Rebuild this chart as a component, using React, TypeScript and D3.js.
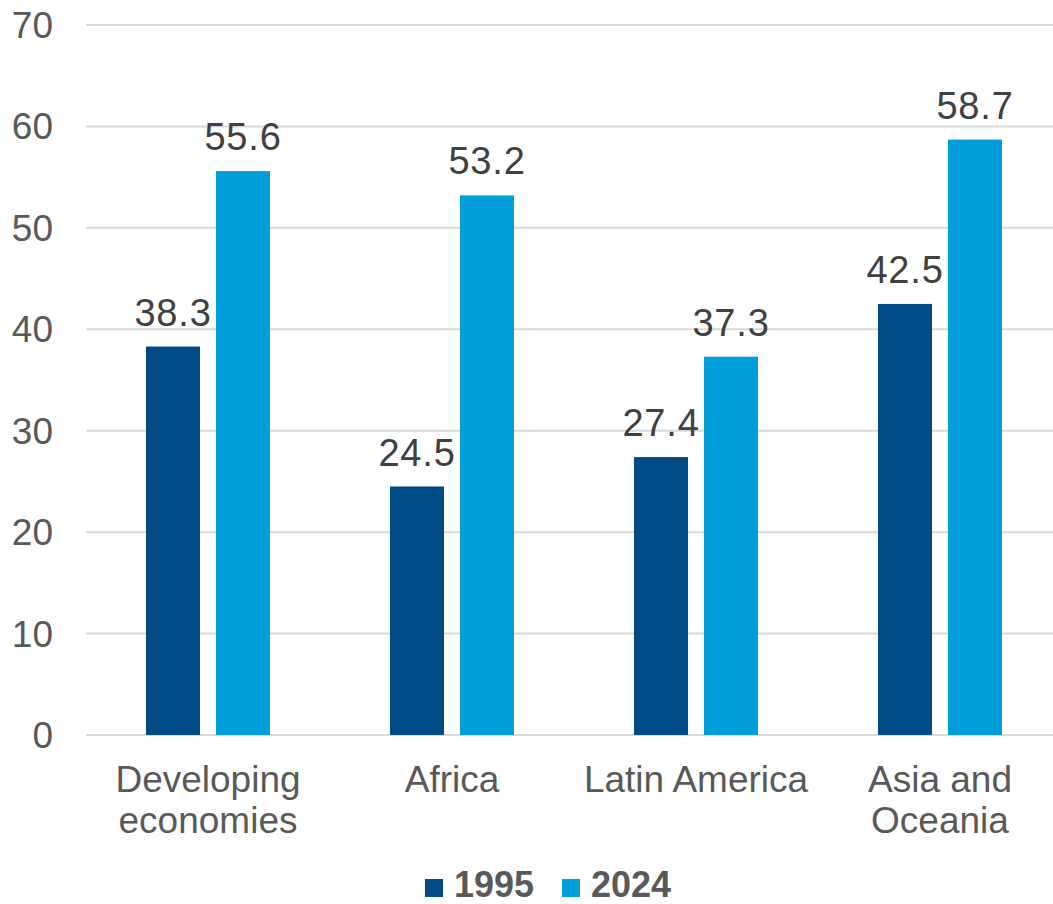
import React from "react";
import * as d3 from "d3";

const categories: string[][] = [
  ["Developing", "economies"],
  ["Africa"],
  ["Latin America"],
  ["Asia and", "Oceania"],
];
const series = ["1995", "2024"];
const values1995 = [38.3, 24.5, 27.4, 42.5];
const values2024 = [55.6, 53.2, 37.3, 58.7];
const yTicks = [0, 10, 20, 30, 40, 50, 60, 70];
const colors = ["#004A86", "#009EDB"];

const W = 1053;
const H = 904;
const FONT = "'Liberation Sans', Arial, Helvetica, sans-serif";
const TEXT = "#595959";

export default function App() {
  const keys = categories.map((c) => c.join(" "));
  const x0 = d3
    .scaleBand<string>()
    .domain(keys)
    .range([86, 1062])
    .paddingInner(120 / 244)
    .paddingOuter(60 / 244);
  const x1 = d3
    .scaleBand<string>()
    .domain(series)
    .range([0, x0.bandwidth()])
    .paddingInner(2 - x0.bandwidth() / 70)
    .paddingOuter(0);
  const y = d3.scaleLinear().domain([0, 70]).range([735, 25]);
  const data = [values1995, values2024];

  return (
    <div style={{ position: "absolute", left: 0, top: 0 }}>
      <svg width={W} height={H} style={{ display: "block", fontFamily: FONT }}>
        <rect width={W} height={H} fill="#ffffff" />
        {yTicks.map((t) => (
          <g key={t}>
            <line x1={86} x2={W} y1={y(t)} y2={y(t)} stroke="#d9d9d9" strokeWidth={2} />
            <text x={53} y={y(t)} dy="0.35em" textAnchor="end" fontSize={37} fill={TEXT}>
              {t}
            </text>
          </g>
        ))}
        {keys.map((k, i) => (
          <g key={k} transform={`translate(${x0(k)},0)`}>
            {series.map((s, j) => {
              const v = data[j][i];
              const bx = x1(s)!;
              return (
                <g key={s}>
                  <rect x={bx} y={y(v)} width={x1.bandwidth()} height={y(0) - y(v)} fill={colors[j]} />
                  <text
                    x={bx + x1.bandwidth() / 2}
                    y={y(v) - 21}
                    textAnchor="middle"
                    fontSize={38}
                    letterSpacing={0.8}
                    fill="#404040"
                  >
                    {v.toFixed(1)}
                  </text>
                </g>
              );
            })}
            {categories[i].map((line, li) => (
              <text
                key={li}
                x={x0.bandwidth() / 2}
                y={792 + li * 41}
                textAnchor="middle"
                fontSize={37}
                fill={TEXT}
              >
                {line}
              </text>
            ))}
          </g>
        ))}
        {series.map((s, j) => {
          const sx = j === 0 ? 425 : 562;
          return (
            <g key={s}>
              <rect x={sx} y={879} width={18} height={18} fill={colors[j]} />
              <text x={sx + 29} y={897} fontSize={36} fontWeight="bold" fill={TEXT}>
                {s}
              </text>
            </g>
          );
        })}
      </svg>
    </div>
  );
}
